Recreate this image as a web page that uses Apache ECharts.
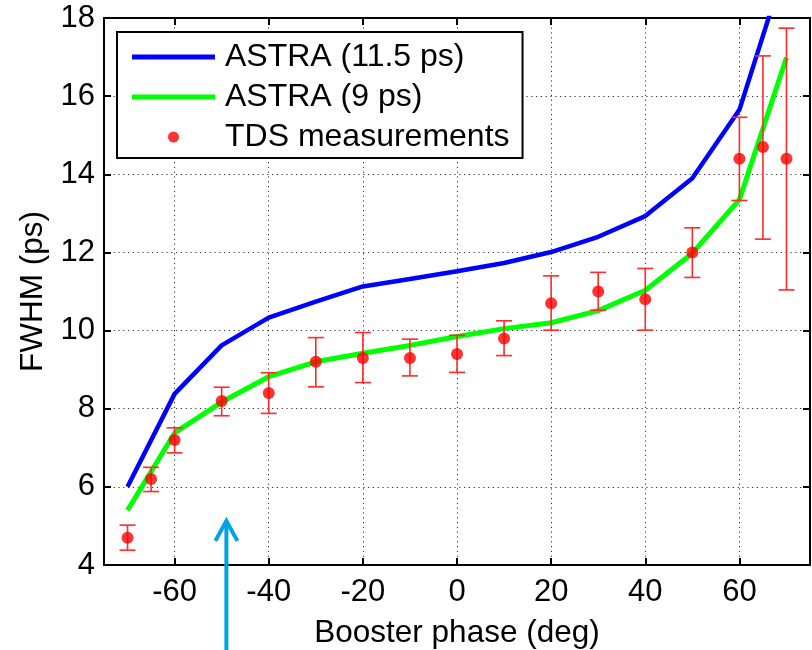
<!DOCTYPE html>
<html>
<head>
<meta charset="utf-8">
<title>FWHM vs booster phase</title>
<script src="https://cdn.jsdelivr.net/npm/echarts@6/dist/echarts.min.js"></script>
<style>
  html, body { margin: 0; padding: 0; background: #fff; }
  #chart { width: 812px; height: 650px; }
</style>
</head>
<body>
<div id="chart"></div>
<script>
// Simulated bunch length (ASTRA) on a 10 degree phase grid
const simPhase = [-70, -60, -50, -40, -30, -20, -10, 0, 10, 20, 30, 40, 50, 60, 70];
const astra115 = [6.0, 8.38, 9.62, 10.33, 10.74, 11.13, 11.32, 11.52, 11.73, 12.01, 12.4, 12.93, 13.9, 15.65, 19.44];
const astra9   = [5.4, 7.38, 8.17, 8.82, 9.2, 9.42, 9.62, 9.85, 10.05, 10.2, 10.51, 11.03, 11.98, 13.35, 16.99];

// TDS measurements with lower / upper error limits
const tdsPhase = [-70, -65, -60, -50, -40, -30, -20, -10, 0, 10, 20, 30, 40, 50, 60, 65, 70];
const tdsFwhm  = [4.7, 6.2, 7.2, 8.2, 8.4, 9.2, 9.3, 9.3, 9.4, 9.8, 10.7, 11.0, 10.8, 12.0, 14.4, 14.7, 14.4];
const tdsLow   = [4.38, 5.88, 6.87, 7.82, 7.88, 8.56, 8.67, 8.84, 8.93, 9.36, 10.01, 10.52, 10.01, 11.36, 13.33, 12.34, 11.04];
const tdsHigh  = [5.02, 6.5, 7.51, 8.55, 8.92, 9.82, 9.95, 9.78, 9.88, 10.25, 11.4, 11.49, 11.59, 12.63, 15.46, 17.03, 17.74];

// Operating phase marker
const markPhase = -49;
const markTipFwhm = 5.13;

const FONT = "'Liberation Sans', Arial, sans-serif";
const chart = echarts.init(document.getElementById('chart'), null, { renderer: 'canvas' });

const zipXY = (xs, ys) => xs.map((x, i) => [x, ys[i]]);

const gridDash = { color: '#333', width: 1, type: [1.2, 3.6] };
const tickInside = { show: true, inside: true, length: 7, lineStyle: { color: '#000', width: 2 } };
const axisBox = { show: true, onZero: false, lineStyle: { color: '#000', width: 2 } };
// flat bar used as the legend swatch for the two simulation curves
const lineIcon = 'path://M0,0L83,0L83,5L0,5Z';

const option = {
  animation: false,
  backgroundColor: '#fff',
  textStyle: { fontFamily: FONT },
  grid: { left: 104, right: 2, top: 18, bottom: 85, containLabel: false, outerBoundsMode: 'none' },
  legend: {
    left: 117, top: 32, orient: 'vertical',
    padding: [9, 13, 5, 15],
    backgroundColor: '#fff', borderColor: '#000', borderWidth: 2,
    itemWidth: 83, itemHeight: 11, itemGap: 8,
    textStyle: { fontFamily: FONT, fontSize: 32, color: '#000', padding: [0, 0, 0, 5] },
    data: [
      { name: 'ASTRA (11.5 ps)', icon: lineIcon },
      { name: 'ASTRA (9 ps)', icon: lineIcon },
      { name: 'TDS measurements', icon: 'circle' }
    ]
  },
  xAxis: [
    {
      type: 'value', min: -75, max: 75, splitNumber: 7,
      name: 'Booster phase (deg)', nameLocation: 'middle', nameGap: 52,
      nameTextStyle: { fontFamily: FONT, fontSize: 31.5, color: '#000' },
      axisLine: axisBox, axisTick: tickInside,
      axisLabel: { fontFamily: FONT, fontSize: 31, color: '#000', margin: 12,
        formatter: v => (v % 20 === 0 ? String(v) : '') },
      splitLine: { show: true, lineStyle: gridDash }
    },
    {
      type: 'value', position: 'top', min: -75, max: 75, splitNumber: 7,
      axisLine: axisBox, axisTick: tickInside,
      axisLabel: { show: false }, splitLine: { show: false }
    }
  ],
  yAxis: [
    {
      type: 'value', min: 4, max: 18, interval: 2,
      name: 'FWHM (ps)', nameLocation: 'middle', nameGap: 54,
      nameTextStyle: { fontFamily: FONT, fontSize: 31.5, color: '#000' },
      axisLine: axisBox, axisTick: tickInside,
      axisLabel: { fontFamily: FONT, fontSize: 31, color: '#000', margin: 9 },
      splitLine: { show: true, lineStyle: gridDash }
    },
    {
      type: 'value', position: 'right', min: 4, max: 18, interval: 2,
      axisLine: axisBox, axisTick: tickInside,
      axisLabel: { show: false }, splitLine: { show: false }
    }
  ],
  series: [
    {
      name: 'ASTRA (11.5 ps)', type: 'line', data: zipXY(simPhase, astra115),
      symbol: 'none', clip: true, z: 2,
      lineStyle: { color: '#0000ff', width: 4.5 }, itemStyle: { color: '#0000ff' }
    },
    {
      name: 'ASTRA (9 ps)', type: 'line', data: zipXY(simPhase, astra9),
      symbol: 'none', clip: true, z: 3,
      lineStyle: { color: '#00ff00', width: 5 }, itemStyle: { color: '#00ff00' }
    },
    {
      name: 'TDS error', type: 'custom', z: 4,
      data: tdsPhase.map((x, i) => [x, tdsLow[i], tdsHigh[i]]),
      encode: { x: 0, y: [1, 2] },
      renderItem: (params, api) => {
        const lo = api.coord([api.value(0), api.value(1)]);
        const hi = api.coord([api.value(0), api.value(2)]);
        const hw = 8;
        const st = { stroke: '#ff2a2a', lineWidth: 1.6 };
        return {
          type: 'group',
          children: [
            { type: 'line', shape: { x1: lo[0], y1: lo[1], x2: hi[0], y2: hi[1] }, style: st },
            { type: 'line', shape: { x1: lo[0] - hw, y1: lo[1], x2: lo[0] + hw, y2: lo[1] }, style: st },
            { type: 'line', shape: { x1: hi[0] - hw, y1: hi[1], x2: hi[0] + hw, y2: hi[1] }, style: st }
          ]
        };
      }
    },
    {
      name: 'TDS measurements', type: 'scatter', data: zipXY(tdsPhase, tdsFwhm),
      symbol: 'circle', symbolSize: 12, z: 5,
      itemStyle: { color: '#ff0000' }
    }
  ]
};

chart.setOption(option);

// Vertical arrow pointing at the operating phase, running off the bottom edge
const tip = chart.convertToPixel({ gridIndex: 0 }, [markPhase, markTipFwhm]);
const arrowStyle = { stroke: '#00a2e8', lineWidth: 4, fill: null };
chart.setOption({
  graphic: [
    { type: 'polyline', z: 100, shape: { points: [[tip[0], tip[1] + 2], [tip[0], 650]] }, style: arrowStyle },
    { type: 'polyline', z: 100, shape: { points: [[tip[0] - 11, tip[1] + 20], [tip[0], tip[1]], [tip[0] + 11, tip[1] + 20]] }, style: arrowStyle }
  ]
});
</script>
</body>
</html>
